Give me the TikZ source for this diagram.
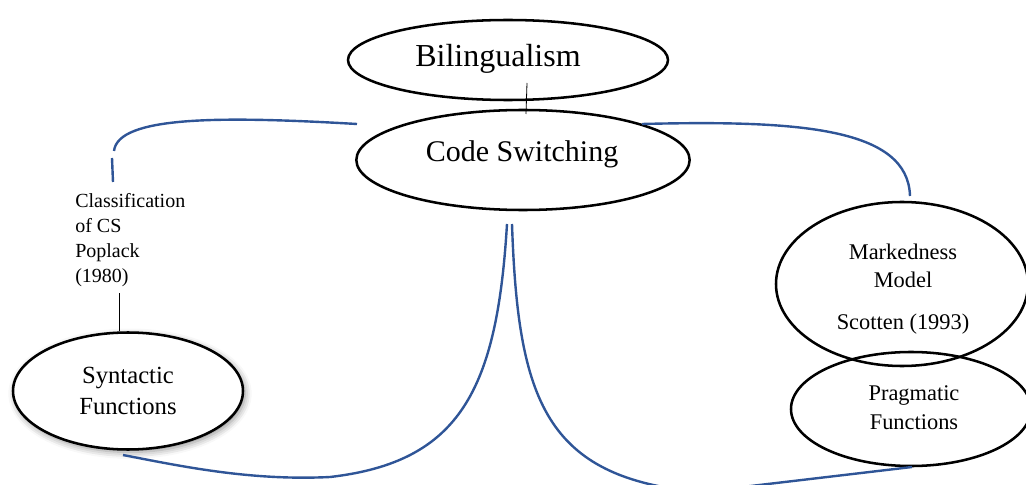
\documentclass[tikz,border=0pt]{standalone}
\usepackage{fontspec}
\setmainfont{Liberation Serif}
\usetikzlibrary{shapes.geometric,shadows.blur}

\definecolor{linkblue}{RGB}{47,85,151}
\tikzset{
  bubble/.style={ellipse, draw, line width=1.9pt, inner sep=0pt, align=center},
  words/.style={inner sep=0pt, align=center},
  link/.style={draw=linkblue, line width=1.8pt},
  tick/.style={draw, line width=0.6pt}
}

\begin{document}
\begin{tikzpicture}[x=0.75pt, y=-0.75pt]
\useasboundingbox (0,0) rectangle (1026,485);

% Top ellipses
\node[bubble, minimum width=240pt, minimum height=60pt] (bil) at (508,60) {};
\node[words, font=\fontsize{24}{28}\selectfont] (biltext) at (498,59) {Bilingualism};
\node[bubble, minimum width=250pt, minimum height=75pt] (cs) at (523,160) {};
\node[words, font=\fontsize{22.5}{26}\selectfont] (cstext) at (522,154) {Code Switching};

% Right ellipses
\node[bubble, minimum width=189pt, minimum height=123pt] (mark) at (902,284) {};
\node[words, font=\fontsize{16.8}{21}\selectfont] (marktext) at (903,289)
  {Markedness\\Model\\[10pt]Scotten (1993)};
\node[bubble, minimum width=180pt, minimum height=85.5pt] (prag) at (911,409) {};
\node[words, font=\fontsize{16.8}{21.75}\selectfont] (pragtext) at (914,408)
  {Pragmatic\\Functions};

% Left ellipse with its shadow
\node[bubble, fill=white, minimum width=172.5pt, minimum height=87.75pt,
  font=\fontsize{18.5}{23}\selectfont,
  blur shadow={shadow xshift=1.5pt, shadow yshift=-2pt,
  shadow blur radius=5pt, shadow opacity=45}] (syn) at (128,391)
  {Syntactic\\Functions};

% Label
\node[words, font=\fontsize{15}{18.75}\selectfont, align=left, anchor=west]
  (cls) at (75,240.5) {Classification\\of CS\\Poplack\\(1980)};

% Thin links
\coordinate (bilfoot) at (527,83);
\coordinate (cstop) at (526,114);
\draw[tick] (bilfoot) -- (cstop);
\coordinate (clsfoot) at (119,293);
\draw[tick] (clsfoot) -- (syn.north -| clsfoot);

% Blue links
\coordinate (csleft) at (357,124);
\coordinate (clsbend) at (114,151);
\coordinate (clsgap) at (112,158);
\coordinate (clstop) at (113,182);
\draw[link] (csleft) .. controls (220,116) and (118,116) .. (clsbend);
\draw[link] (clsgap) -- (clstop);

\coordinate (csright) at (642,124);
\coordinate (marktop) at (910,196);
\draw[link] (csright) .. controls (800,120) and (908,128) .. (marktop);

\coordinate (csfootL) at (507,224);
\coordinate (synfoot) at (123,455);
\draw[link] (csfootL) .. controls (497,390) and (460,462) .. (330,477)
  .. controls (250,481) and (180,466) .. (synfoot);

\coordinate (csfootR) at (512,224);
\coordinate (dip) at (700,492);
\coordinate (pragfoot) at (912,467);
\draw[link] (csfootR) .. controls (518,400) and (545,478) .. (dip) -- (pragfoot);
\end{tikzpicture}
\end{document}
